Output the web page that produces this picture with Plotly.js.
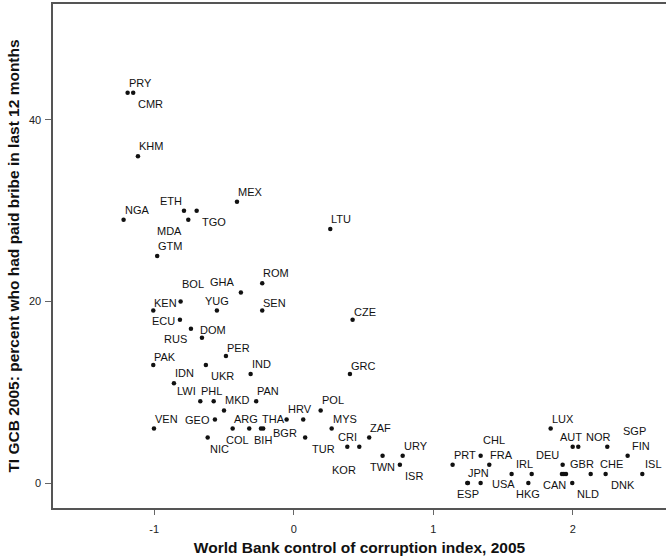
<!DOCTYPE html>
<html>
<head>
<meta charset="utf-8">
<script src="https://cdn.plot.ly/plotly-3.0.1.min.js"></script>
<style>html,body{margin:0;padding:0;background:#fff;}#chart{width:666px;height:560px;}</style>
</head>
<body>
<div id="chart"></div>
<script>
// Country codes
const countries = ["PRY","CMR","KHM","MEX","ETH","TGO","MDA","NGA","LTU","GTM",
  "ROM","GHA","BOL","KEN","YUG","SEN","CZE","ECU","DOM","RUS",
  "PER","PAK","UKR","IND","GRC","IDN","LWI","PHL","MKD","PAN",
  "VEN","GEO","NIC","ARG","COL","THA","BIH","HRV","BGR","POL",
  "MYS","TUR","CRI","KOR","ZAF","TWN","URY","ISR","PRT","CHL",
  "FRA","JPN","ESP","USA","IRL","","HKG","LUX","DEU","CAN",
  "","GBR","NLD","AUT","NOR","SGP","CHE","DNK","FIN","ISL"];
// World Bank control of corruption index, 2005
const controlOfCorruption = [-1.191,-1.151,-1.117,-0.407,-0.787,-0.696,-0.756,-1.220,0.262,-0.979,
  -0.226,-0.379,-0.811,-1.007,-0.551,-0.226,0.422,-0.816,-0.737,-0.658,
  -0.486,-1.007,-0.630,-0.309,0.403,-0.859,-0.670,-0.574,-0.500,-0.269,
  -1.002,-0.565,-0.617,-0.438,-0.319,-0.235,-0.219,-0.051,0.068,0.193,
  0.272,0.082,0.384,0.470,0.541,0.637,0.781,0.761,1.139,1.340,
  1.402,1.244,1.249,1.340,1.562,1.706,1.682,1.842,1.928,1.923,
  1.937,1.952,1.997,2.000,2.040,2.248,2.129,2.236,2.394,2.499];
// TI GCB 2005: percent who had paid bribe in last 12 months
const bribePercent = [43,43,36,31,30,30,29,29,28,25,
  22,21,20,19,19,19,18,18,17,16,
  14,13,13,12,12,11,9,9,8,9,
  6,7,5,6,6,6,6,7,7,8,
  6,5,4,4,5,3,3,2,2,3,
  2,0,0,0,1,1,0,6,2,1,
  1,1,0,4,4,4,1,1,3,1];
// Marker label placement as clock positions (like Stata's mlabvposition)
const labelClock = [1,5,1,1,11,5,7,1,1,1,
  1,11,1,1,12,1,1,9,3,9,
  1,1,5,1,1,1,11,12,1,1,
  1,9,5,1,7,1,6,1,7,1,
  1,5,12,7,1,6,1,5,1,1,
  1,1,6,3,1,0,6,1,11,7,
  0,1,5,12,1,1,1,5,1,1];
const xTicks = [-1,0,1,2];
const yTicks = [0,20,40];

const FONT = "Liberation Sans, Arial, Helvetica, sans-serif";

// label placement style per clock position (pixels)
const clockStyle = {
  1:  {xanchor: "left",   xshift: -1, yshift: 10},
  11: {xanchor: "right",  xshift: 0,  yshift: 10},
  12: {xanchor: "center", xshift: 0,  yshift: 10},
  5:  {xanchor: "left",   xshift: 3,  yshift: -11},
  7:  {xanchor: "right",  xshift: -1, yshift: -11},
  6:  {xanchor: "center", xshift: 0,  yshift: -11},
  3:  {xanchor: "left",   xshift: 7,  yshift: -1},
  9:  {xanchor: "right",  xshift: -3, yshift: -1}
};
// small per-label pixel nudges to avoid collisions (style only)
const labelNudge = {
  MDA: [-3,0], GHA: [-4,0], RUS: [-10,0], LWI: [-2,0], PHL: [-2,0], NIC: [-3,0],
  COL: [3,0], BGR: [-3,-3], TUR: [2,0], KOR: [0,-12], USA: [2,0], IRL: [3,0],
  DEU: [-2,0], GBR: [3,0], CAN: [7,0], AUT: [-2,0], NOR: [7,0], SGP: [15,6],
  CHE: [8,0], FIN: [3,0], ISL: [2,0], CHL: [1,6], BOL: [0,7], KEN: [0,-2],
  PER: [0,-2], PAK: [0,-2], SEN: [0,-2], CZE: [0,-2], GRC: [0,-2]
};

const trace = {
  type: "scatter",
  mode: "markers",
  x: controlOfCorruption,
  y: bribePercent,
  marker: {size: 4.5, color: "#111"},
  cliponaxis: false,
  hoverinfo: "skip"
};

const annotations = [];
countries.forEach((c, i) => {
  if (!c || !labelClock[i]) return;
  const s = clockStyle[labelClock[i]];
  const n = labelNudge[c] || [0, 0];
  annotations.push({
    x: controlOfCorruption[i], y: bribePercent[i], xref: "x", yref: "y",
    text: c, showarrow: false,
    xanchor: s.xanchor, yanchor: "middle",
    xshift: s.xshift + n[0], yshift: s.yshift + n[1],
    font: {family: FONT, size: 11, color: "#111"}
  });
});

const layout = {
  width: 666, height: 560,
  margin: {l: 53, r: 0, t: 4, b: 52},
  paper_bgcolor: "#fff", plot_bgcolor: "#fff",
  showlegend: false,
  font: {family: FONT, color: "#222"},
  annotations: annotations,
  xaxis: {
    range: [-1.726, 2.669],
    tickvals: xTicks, ticktext: xTicks.map(String),
    showgrid: false, zeroline: false,
    showline: true, linecolor: "#555", linewidth: 1.6, mirror: true,
    ticks: "outside", ticklen: 5, tickcolor: "#666", tickwidth: 1,
    tickfont: {family: FONT, size: 11, color: "#222"},
    ticklabelstandoff: 5,
    title: {text: "World Bank control of corruption index, 2005",
            font: {family: FONT, size: 15.5, color: "#111", weight: "bold"}, standoff: 8}
  },
  yaxis: {
    range: [-2.755, 52.78],
    tickvals: yTicks, ticktext: yTicks.map(String),
    showgrid: false, zeroline: false,
    showline: true, linecolor: "#555", linewidth: 1.6,
    ticks: "outside", ticklen: 6, tickcolor: "#666", tickwidth: 1,
    tickfont: {family: FONT, size: 11, color: "#222"},
    ticklabelstandoff: 2,
    title: {text: "TI GCB 2005: percent who had paid bribe in last 12 months",
            font: {family: FONT, size: 15.5, color: "#111", weight: "bold"}, standoff: 5}
  }
};

Plotly.newPlot("chart", [trace], layout, {staticPlot: true, displayModeBar: false});
</script>
</body>
</html>
